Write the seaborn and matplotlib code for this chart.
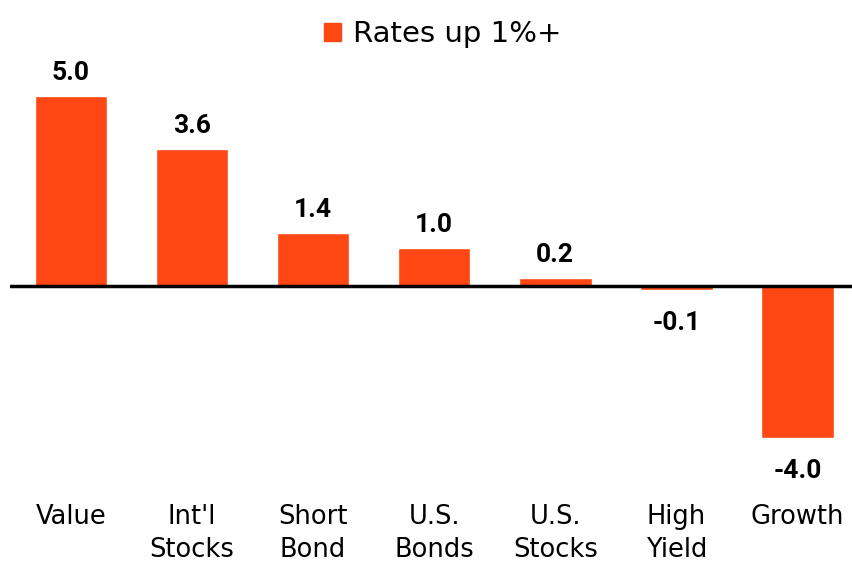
import matplotlib
matplotlib.use("Agg")
import matplotlib.pyplot as plt
import matplotlib.patches as mpatches
import pandas as pd
import seaborn as sns

categories = ["Value", "Int'l\nStocks", "Short\nBond", "U.S.\nBonds", "U.S.\nStocks", "High\nYield", "Growth"]
values = [5.0, 3.6, 1.4, 1.0, 0.2, -0.1, -4.0]
series_name = "Rates up 1%+"
bar_color = "#ff4713"

df = pd.DataFrame({"category": categories, "value": values})

sns.set_theme(style="white")
plt.rcParams["font.family"] = ["DejaVu Sans"]
plt.rcParams["text.color"] = "black"
plt.rcParams["xtick.color"] = "black"

fig = plt.figure(figsize=(8.53, 5.62), dpi=100)
ax = fig.add_axes([10 / 853, 102 / 562, 843 / 853, 400 / 562])

sns.barplot(data=df, x="category", y="value", color=bar_color, width=0.6,
            saturation=1, ax=ax)

ax.set_xlim(-0.504, 6.46)
ax.set_ylim(-4.579, 5.947)
ax.axhline(0, color="black", lw=2.5, zorder=5)

for i, v in enumerate(values):
    if v >= 0:
        ax.annotate(f"{v:.1f}", (i, v), xytext=(0, 8), textcoords="offset points",
                    ha="center", va="bottom", fontsize=19, fontweight="bold",
                    family="Roboto", color="black")
    else:
        ax.annotate(f"{v:.1f}", (i, v), xytext=(0, -15), textcoords="offset points",
                    ha="center", va="top", fontsize=19, fontweight="bold",
                    family="Roboto", color="black")

ax.set_xlabel("")
ax.set_ylabel("")
ax.set_yticks([])
ax.tick_params(axis="x", length=0, pad=31.5, labelsize=18.5, labelcolor="black")
for lbl in ax.get_xticklabels():
    lbl.set_linespacing(1.35)
sns.despine(ax=ax, left=True, bottom=True)

handle = mpatches.Patch(color=bar_color, label=series_name)
fig.legend(handles=[handle], loc="upper center", bbox_to_anchor=(0.519, 1.0),
           frameon=False, fontsize=21, handlelength=0.6, handleheight=0.6,
           handletextpad=0.4, borderaxespad=0.3)

fig.savefig("out.png", dpi=100)
